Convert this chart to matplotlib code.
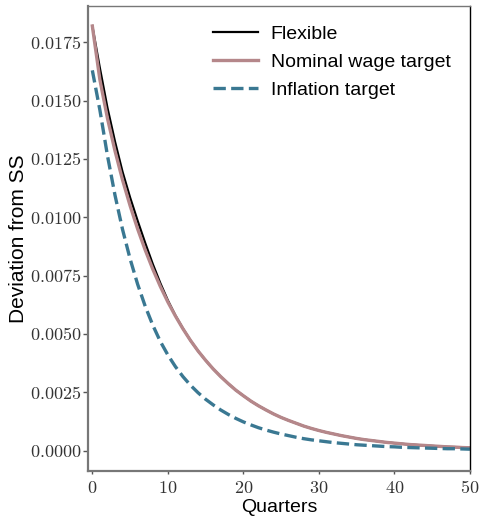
import matplotlib
matplotlib.use("Agg")
import matplotlib.pyplot as plt
from matplotlib.ticker import FuncFormatter, MultipleLocator

plt.rcParams['mathtext.fontset'] = 'cm'
plt.rcParams['font.family'] = ['Liberation Sans', 'DejaVu Sans']

quarters = list(range(51))

# impulse responses, deviation from steady state
flexible = [0.01820, 0.01640, 0.01470, 0.01325, 0.01195, 0.01085, 0.00985, 0.00890, 0.00800, 0.00718,
            0.00644, 0.00579, 0.00523, 0.00472, 0.00427, 0.00387, 0.00350, 0.00317, 0.00287, 0.00259,
            0.00235, 0.00212, 0.00192, 0.00174, 0.00157, 0.00142, 0.00129, 0.00117, 0.00105, 0.00095,
            0.00086, 0.00078, 0.00071, 0.00064, 0.00058, 0.00052, 0.00047, 0.00043, 0.00039, 0.00035,
            0.00032, 0.00029, 0.00026, 0.00024, 0.00022, 0.00020, 0.00018, 0.00016, 0.00015, 0.00013,
            0.00012]
wage_target = [0.01820, 0.01590, 0.01425, 0.01285, 0.01160, 0.01050, 0.00950, 0.00860, 0.00778, 0.00704,
               0.00637, 0.00577, 0.00522, 0.00472, 0.00427, 0.00387, 0.00350, 0.00317, 0.00287, 0.00259,
               0.00235, 0.00212, 0.00192, 0.00174, 0.00157, 0.00142, 0.00129, 0.00117, 0.00105, 0.00095,
               0.00086, 0.00078, 0.00071, 0.00064, 0.00058, 0.00052, 0.00047, 0.00043, 0.00039, 0.00035,
               0.00032, 0.00029, 0.00026, 0.00024, 0.00022, 0.00020, 0.00018, 0.00016, 0.00015, 0.00013,
               0.00012]
inflation_target = [0.01630, 0.01460, 0.01265, 0.01095, 0.00948, 0.00822, 0.00713, 0.00619, 0.00538, 0.00468,
                    0.00410, 0.00360, 0.00317, 0.00280, 0.00248, 0.00220, 0.00196, 0.00174, 0.00155, 0.00138,
                    0.00123, 0.00110, 0.00098, 0.00088, 0.00079, 0.00071, 0.00064, 0.00057, 0.00051, 0.00046,
                    0.00042, 0.00038, 0.00034, 0.00031, 0.00028, 0.00025, 0.00023, 0.00021, 0.00019, 0.00017,
                    0.00016, 0.00014, 0.00013, 0.00012, 0.00011, 0.00010, 0.00009, 0.00008, 0.00008, 0.00007,
                    0.00006]

fig = plt.figure(figsize=(4.81, 5.16), dpi=100)
ax = fig.add_axes([0.183, 0.087, 0.794, 0.901])

ax.plot(quarters, flexible, color='black', lw=1.6, label='Flexible')
ax.plot(quarters, wage_target, color='#b5878a', lw=2.4, label='Nominal wage target')
ax.plot(quarters, inflation_target, color='#3a7892', lw=2.4, ls='--', label='Inflation target')

ax.set_xlim(-0.57, 50)
ax.set_ylim(-0.00088, 0.01905)
ax.xaxis.set_major_locator(MultipleLocator(10))
ax.yaxis.set_major_locator(MultipleLocator(0.0025))
ax.xaxis.set_major_formatter(FuncFormatter(lambda v, p: r'$%d$' % v))
ax.yaxis.set_major_formatter(FuncFormatter(lambda v, p: r'$%.4f$' % v))
ax.tick_params(labelsize=13, width=1, color='#555555', labelcolor='#333333')
ax.tick_params(axis='y', length=3.5, pad=1.2)
ax.tick_params(axis='x', length=2.5, pad=4)

for side in ['left', 'bottom']:
    ax.spines[side].set_color('#777777')
    ax.spines[side].set_linewidth(1.6)
ax.spines['top'].set_color('#777777')
ax.spines['top'].set_linewidth(1.0)
ax.spines['right'].set_color('black')
ax.spines['right'].set_linewidth(1.0)

ax.set_xlabel('Quarters', fontsize=14, labelpad=1)
ax.set_ylabel('Deviation from SS', fontsize=15, labelpad=1.5)

ax.legend(loc='upper right', frameon=False, fontsize=14, handlelength=2.3,
          handletextpad=0.67, labelspacing=0.53, borderaxespad=0.6)

fig.savefig('out.png', dpi=100)
